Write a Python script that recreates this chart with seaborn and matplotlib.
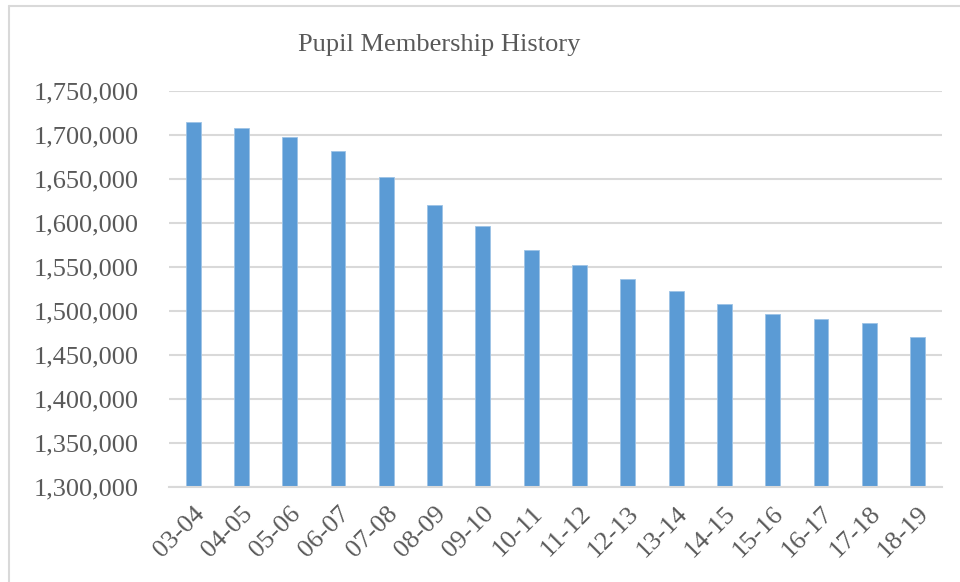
import pandas as pd
import seaborn as sns
from matplotlib import pyplot as plt
from matplotlib.lines import Line2D
from matplotlib.ticker import FuncFormatter

# school years and pupil counts
years = ['03-04', '04-05', '05-06', '06-07', '07-08', '08-09', '09-10', '10-11',
         '11-12', '12-13', '13-14', '14-15', '15-16', '16-17', '17-18', '18-19']
members = [1714100, 1707600, 1697400, 1681200, 1652300, 1619900, 1596000, 1569400,
           1552000, 1535800, 1522500, 1508100, 1496100, 1490700, 1486600, 1470000]

df = pd.DataFrame({'year': years, 'members': members})

sns.set_theme(style='white')
plt.rcParams['font.family'] = ['Liberation Serif', 'DejaVu Serif']

text_grey = '#595959'
grid_grey = '#d9d9d9'

fig = plt.figure(figsize=(9.6, 5.82), dpi=100)
ax = fig.add_axes([0.176, 0.163, 0.805, 0.681])

sns.barplot(data=df, x='year', y='members', color='#5b9bd5', width=0.31,
            edgecolor='#9dc3e6', linewidth=0.6, saturation=1, ax=ax)

ax.set_ylim(1300000, 1750000)
ax.set_xlim(-0.5, len(years) - 0.5)
ax.set_yticks(range(1300000, 1750001, 50000))
ax.yaxis.set_major_formatter(FuncFormatter(lambda v, p: f'{int(v):,}'))
ax.grid(axis='y', color=grid_grey, linewidth=1.5)
ax.set_axisbelow(True)

for side in ['top', 'right', 'left']:
    ax.spines[side].set_visible(False)
ax.spines['bottom'].set_color(grid_grey)
ax.spines['bottom'].set_linewidth(1.5)

ax.tick_params(axis='y', length=0, pad=22, labelsize=19, labelcolor=text_grey)
ax.tick_params(axis='x', length=0, pad=11, labelsize=19, labelcolor=text_grey)
plt.setp(ax.get_xticklabels(), rotation=45, ha='right', rotation_mode='anchor')
ax.set_xlabel('')
ax.set_ylabel('')

fig.text(0.458, 0.922, 'Pupil Membership History', ha='center', va='center',
         fontsize=19, color=text_grey)

# chart frame, only top and left edges are visible in the crop
fig.add_artist(Line2D([0.009, 1.0], [0.989, 0.989], color=grid_grey, linewidth=1.5))
fig.add_artist(Line2D([0.009, 0.009], [0.0, 0.989], color=grid_grey, linewidth=1.5))

fig.savefig('out.png', dpi=100, facecolor='white')
